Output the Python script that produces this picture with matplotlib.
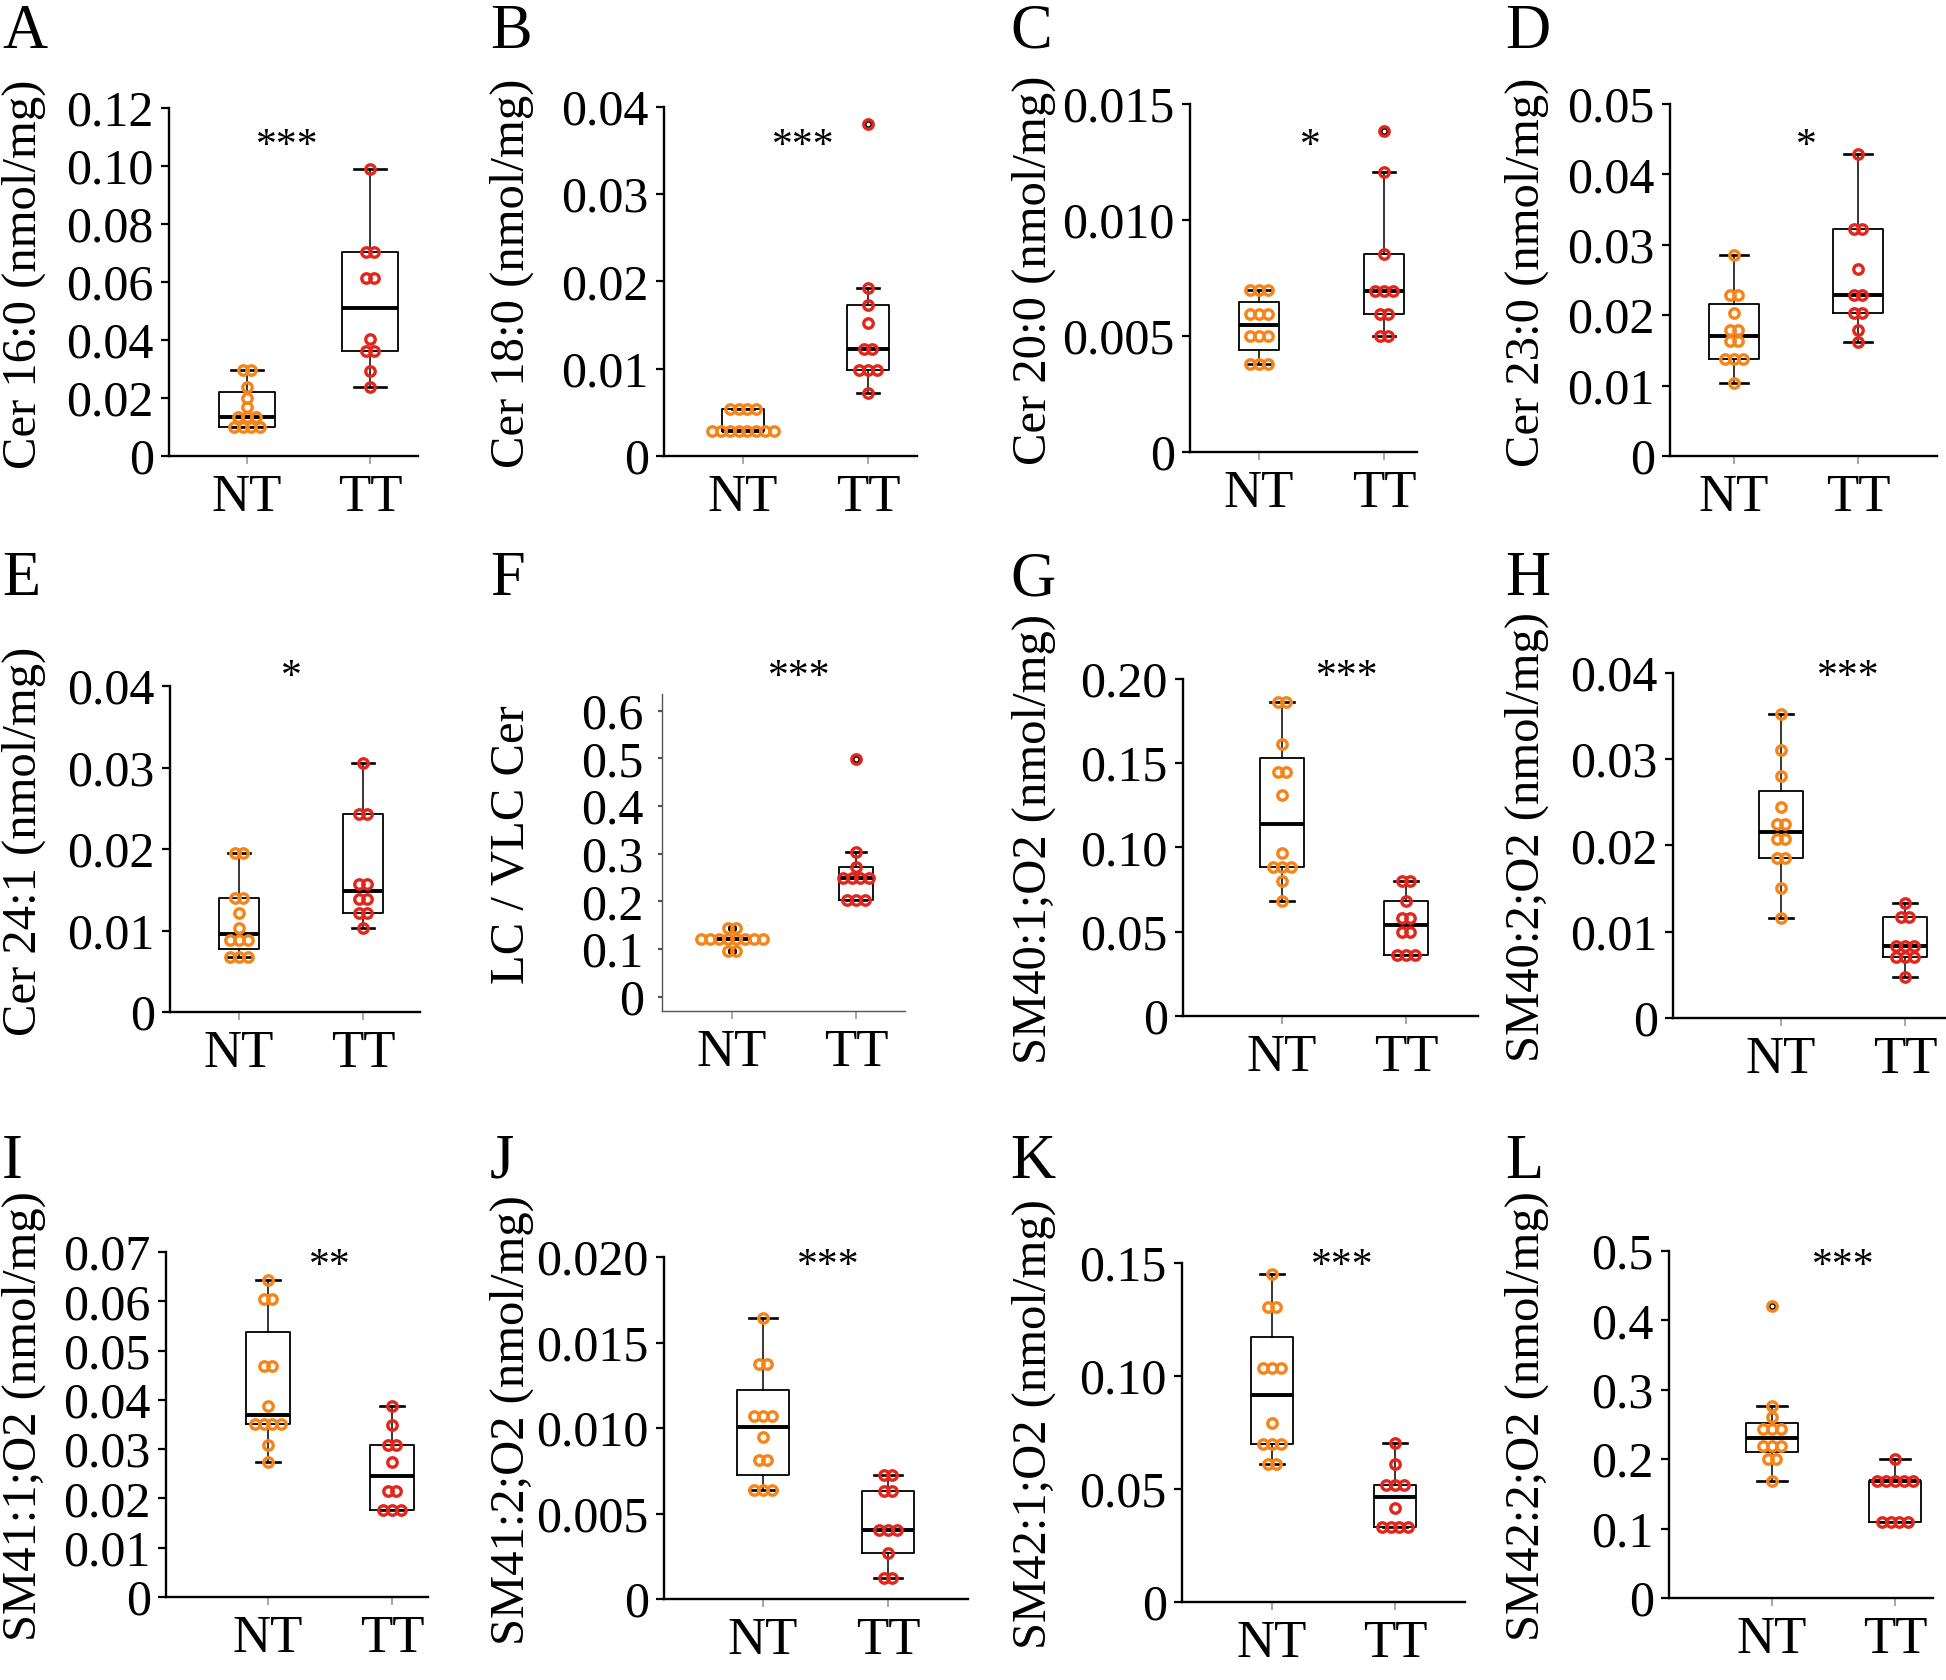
import matplotlib.pyplot as plt
import numpy as np
from matplotlib.transforms import blended_transform_factory

plt.rcParams['font.family'] = ['Liberation Serif', 'DejaVu Serif']

# ---- data ----
groups = ['NT', 'TT']

A_NT = [0.0296, 0.0296, 0.0239, 0.0199, 0.0168, 0.0135, 0.0135, 0.0135, 0.0101, 0.0101, 0.0101, 0.0101]
A_TT = [0.0990, 0.0704, 0.0704, 0.0614, 0.0614, 0.0405, 0.0363, 0.0363, 0.0294, 0.0239]
B_NT = [0.0054, 0.0054, 0.0054, 0.0054, 0.0029, 0.0029, 0.0029, 0.0029, 0.0029, 0.0029, 0.0029, 0.0029]
B_TT = [0.0380, 0.0193, 0.0173, 0.0153, 0.0123, 0.0123, 0.0098, 0.0098, 0.0098, 0.0072]
C_NT = [0.00697, 0.00697, 0.00697, 0.00596, 0.00596, 0.00596, 0.00499, 0.00499, 0.00499, 0.00379, 0.00379, 0.00379]
C_TT = [0.01385, 0.01208, 0.00853, 0.00695, 0.00695, 0.00695, 0.00596, 0.00596, 0.00499, 0.00499]
D_NT = [0.0286, 0.0229, 0.0229, 0.0203, 0.0179, 0.0179, 0.0163, 0.0163, 0.0138, 0.0138, 0.0138, 0.0103]
D_TT = [0.0429, 0.0323, 0.0323, 0.0266, 0.0228, 0.0228, 0.0203, 0.0203, 0.0179, 0.0162]
E_NT = [0.0195, 0.0195, 0.0140, 0.0140, 0.0121, 0.0103, 0.0088, 0.0088, 0.0088, 0.0067, 0.0067, 0.0067]
E_TT = [0.0306, 0.0243, 0.0243, 0.0157, 0.0157, 0.0139, 0.0139, 0.0121, 0.0121, 0.0103]
F_NT = [0.145, 0.145, 0.121, 0.121, 0.121, 0.121, 0.121, 0.121, 0.121, 0.121, 0.0965, 0.0965]
F_TT = [0.499, 0.303, 0.273, 0.250, 0.250, 0.250, 0.250, 0.203, 0.203, 0.203]
G_NT = [0.1863, 0.1863, 0.1616, 0.1448, 0.1448, 0.1313, 0.0966, 0.0883, 0.0883, 0.0883, 0.0804, 0.0685]
G_TT = [0.0804, 0.0804, 0.0685, 0.0580, 0.0580, 0.0497, 0.0497, 0.0362, 0.0362, 0.0362]
H_NT = [0.0353, 0.0311, 0.0281, 0.0245, 0.0225, 0.0225, 0.0207, 0.0207, 0.0186, 0.0186, 0.0151, 0.0116]
H_TT = [0.0133, 0.0117, 0.0117, 0.0084, 0.0084, 0.0084, 0.0071, 0.0071, 0.0071, 0.0048]
I_NT = [0.0643, 0.0605, 0.0605, 0.0469, 0.0469, 0.0387, 0.0352, 0.0352, 0.0352, 0.0352, 0.0309, 0.0274]
I_TT = [0.0387, 0.0350, 0.0309, 0.0309, 0.0274, 0.0215, 0.0215, 0.0176, 0.0176, 0.0176]
J_NT = [0.01646, 0.01373, 0.01373, 0.01069, 0.01069, 0.01069, 0.00948, 0.00812, 0.00812, 0.00637, 0.00637, 0.00637]
J_TT = [0.00724, 0.00724, 0.00633, 0.00633, 0.00403, 0.00403, 0.00403, 0.00271, 0.00121, 0.00121]
K_NT = [0.145, 0.1305, 0.1305, 0.1037, 0.1037, 0.1037, 0.0794, 0.0701, 0.0701, 0.0701, 0.0612, 0.0612]
K_TT = [0.0704, 0.0612, 0.0516, 0.0516, 0.0516, 0.0417, 0.0332, 0.0332, 0.0332, 0.0332]
L_NT = [0.421, 0.2766, 0.2603, 0.243, 0.243, 0.243, 0.219, 0.219, 0.219, 0.2004, 0.2004, 0.1692]
L_TT = [0.2004, 0.1692, 0.1692, 0.1692, 0.1692, 0.1692, 0.1088, 0.1088, 0.1088, 0.1088]

letters = list('ABCDEFGHIJKL')
ylabels = ['Cer 16:0 (nmol/mg)', 'Cer 18:0 (nmol/mg)', 'Cer 20:0 (nmol/mg)', 'Cer 23:0 (nmol/mg)',
           'Cer 24:1 (nmol/mg)', 'LC / VLC Cer', 'SM40:1;O2 (nmol/mg)', 'SM40:2;O2 (nmol/mg)',
           'SM41:1;O2 (nmol/mg)', 'SM41:2;O2 (nmol/mg)', 'SM42:1;O2 (nmol/mg)', 'SM42:2;O2 (nmol/mg)']
stars = ['***', '***', '*', '*', '*', '***', '***', '***', '**', '***', '***', '***']
nt_data = [A_NT, B_NT, C_NT, D_NT, E_NT, F_NT, G_NT, H_NT, I_NT, J_NT, K_NT, L_NT]
tt_data = [A_TT, B_TT, C_TT, D_TT, E_TT, F_TT, G_TT, H_TT, I_TT, J_TT, K_TT, L_TT]
yticklabels = [
    ['0', '0.02', '0.04', '0.06', '0.08', '0.10', '0.12'],
    ['0', '0.01', '0.02', '0.03', '0.04'],
    ['0', '0.005', '0.010', '0.015'],
    ['0', '0.01', '0.02', '0.03', '0.04', '0.05'],
    ['0', '0.01', '0.02', '0.03', '0.04'],
    ['0', '0.1', '0.2', '0.3', '0.4', '0.5', '0.6'],
    ['0', '0.05', '0.10', '0.15', '0.20'],
    ['0', '0.01', '0.02', '0.03', '0.04'],
    ['0', '0.01', '0.02', '0.03', '0.04', '0.05', '0.06', '0.07'],
    ['0', '0.005', '0.010', '0.015', '0.020'],
    ['0', '0.05', '0.10', '0.15'],
    ['0', '0.1', '0.2', '0.3', '0.4', '0.5'],
]
ylims = [(0, 0.12), (0, 0.04), (0, 0.015), (0, 0.05), (0, 0.04), (-0.03, 0.635),
         (0, 0.2), (0, 0.04), (0, 0.07), (0, 0.02), (0, 0.15), (0, 0.5)]

# ---- layout in pixels: left, right, top, bottom, NT x, TT x, box width, star x ----
W, H = 1946, 1680
layout = [
    (169, 418, 108, 456, 247, 370, 0.46, 1.33),
    (664, 917, 107, 456, 743, 868, 0.33, 1.48),
    (1190, 1417, 104, 452, 1259, 1384, 0.32, 1.41),
    (1670, 1937, 104, 456, 1734, 1858, 0.40, 1.58),
    (170, 420, 686, 1012, 239, 363, 0.33, 1.42),
    (662, 905, 694, 1011, 732, 856, 0.28, 1.54),
    (1183, 1478, 679, 1016, 1282, 1406, 0.35, 1.53),
    (1673, 1945, 673, 1018, 1781, 1905, 0.35, 1.54),
    (166, 428, 1252, 1597, 268, 392, 0.35, 1.5),
    (664, 968, 1257, 1599, 763, 888, 0.42, 1.52),
    (1182, 1465, 1263, 1602, 1272, 1395, 0.34, 1.57),
    (1669, 1933, 1251, 1598, 1772, 1895, 0.43, 1.58),
]
col_label_x = [24, 512, 1034, 1527]
col_letter_x = [2, 490, 1010, 1505]
row_letter_y = [4, 551, 1134]
row_star_y = [136, 667, 1256]

orange = '#F5851A'
red = '#E2261C'


def tukey(vals):
    v = np.sort(np.asarray(vals, dtype=float))
    n = len(v)
    lo, hi = v[:(n + 1) // 2], v[n // 2:]
    q1, med, q3 = np.median(lo), np.median(v), np.median(hi)
    iqr = q3 - q1
    inside = v[(v >= q1 - 1.5 * iqr) & (v <= q3 + 1.5 * iqr)]
    return dict(med=med, q1=q1, q3=q3, whislo=inside.min(), whishi=inside.max(),
                fliers=v[(v < q1 - 1.5 * iqr) | (v > q3 + 1.5 * iqr)])


def dots(vals, pos, step):
    xs, ys = [], []
    for val in sorted(set(vals), reverse=True):
        c = vals.count(val)
        for k in range(c):
            xs.append(pos + (k - (c - 1) / 2) * step)
            ys.append(val)
    return xs, ys


fig = plt.figure(figsize=(W / 100, H / 100), dpi=100)

for i in range(12):
    L, R, T, B, xn, xt, bw, sx = layout[i]
    row, col = divmod(i, 4)
    ax = fig.add_axes([L / W, 1 - B / H, (R - L) / W, (B - T) / H])
    unit = xt - xn
    ax.set_xlim(1 - (xn - L) / unit, 1 + (R - xn) / unit)
    ax.set_ylim(*ylims[i])

    stats = [tukey(nt_data[i]), tukey(tt_data[i])]
    ax.bxp(stats, positions=[1, 2], widths=bw, capwidths=bw * 0.55,
           boxprops=dict(color='black', lw=1.3),
           medianprops=dict(color='black', lw=2.8),
           whiskerprops=dict(color='black', lw=1.1),
           capprops=dict(color='black', lw=1.9),
           flierprops=dict(marker='o', ms=4.5, mfc='none', mec='black', mew=1.8))
    for pos, vals, c in [(1, nt_data[i], orange), (2, tt_data[i], red)]:
        xs, ys = dots(vals, pos, 8.8 / unit)
        ax.plot(xs, ys, 'o', ms=6.8, mfc='none', mec=c, mew=2.4, zorder=5, clip_on=False)

    tick_vals = [float(t) for t in yticklabels[i]]
    ax.set_yticks(tick_vals)
    ax.set_yticklabels(yticklabels[i])
    ax.set_xticks([1, 2])
    ax.set_xticklabels(groups)
    for s in ['top', 'right']:
        ax.spines[s].set_visible(False)
    spine_c = '#555555' if i == 5 else 'black'
    for s in ['left', 'bottom']:
        ax.spines[s].set_linewidth(1.0 if i == 5 else 1.7)
        ax.spines[s].set_color(spine_c)
    ax.tick_params(axis='y', length=6 if i != 5 else 3, width=1.6, color=spine_c,
                   pad=5 if i != 5 else 10, labelsize=36)
    ax.tick_params(axis='x', length=6, width=1.2, color='#999999', pad=7, labelsize=38)

    fig.text(col_label_x[col] / W, 1 - ((T + B) / 2 - 8) / H, ylabels[i], rotation=90,
             ha='center', va='center', fontsize=35)
    fig.text(col_letter_x[col] / W, 1 - row_letter_y[row] / H, letters[i], fontsize=45,
             ha='left', va='top')
    tr = blended_transform_factory(ax.transData, fig.transFigure)
    ax.text(sx, 1 - (row_star_y[row] + 21) / H, stars[i], transform=tr, ha='center',
            va='baseline', fontsize=30)

fig.savefig('out.png', dpi=100)
